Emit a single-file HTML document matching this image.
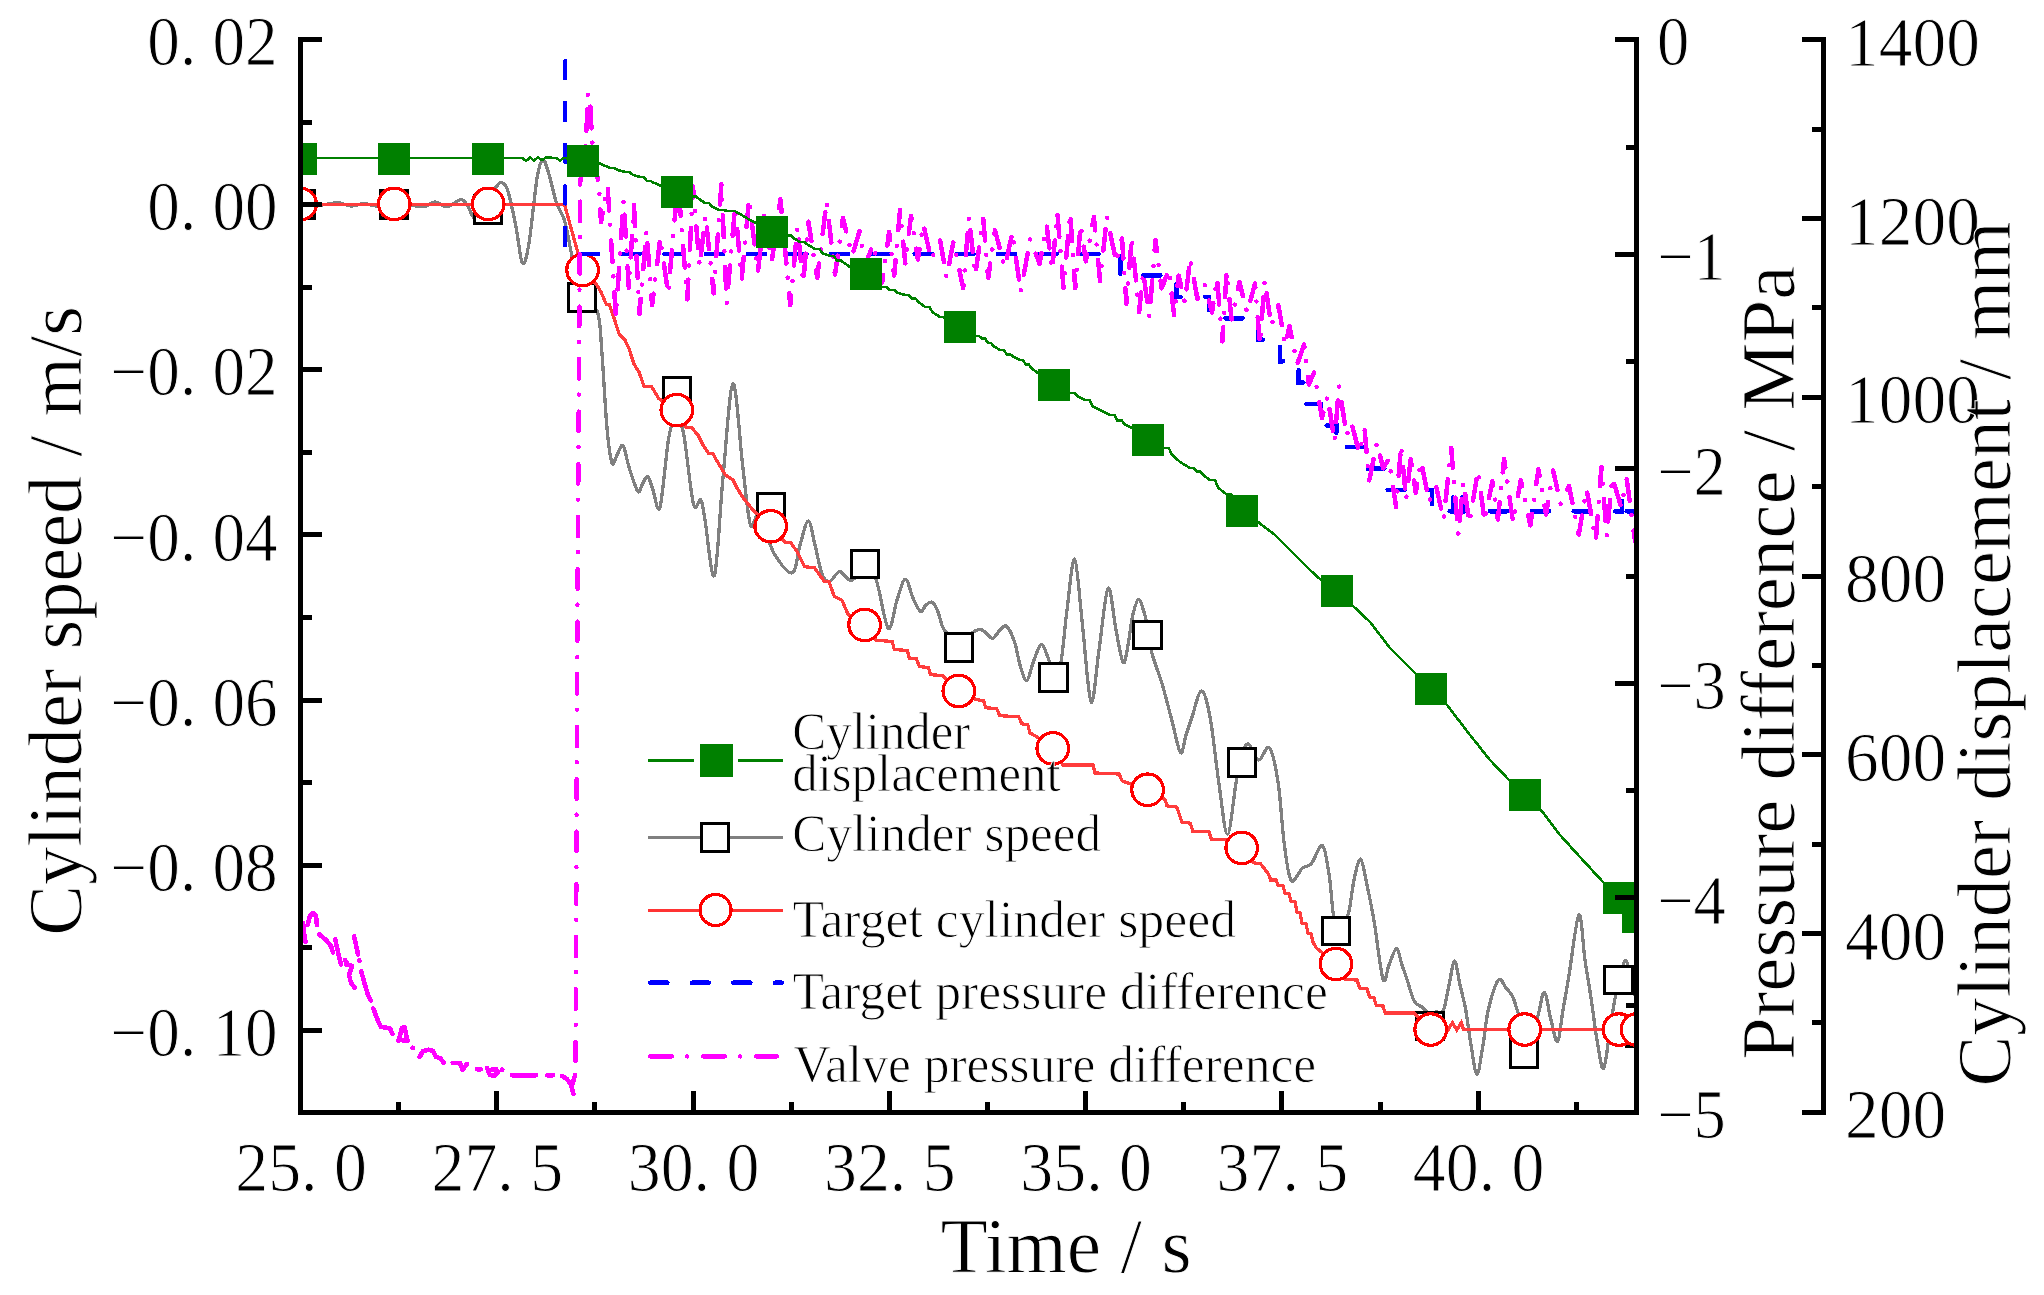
<!DOCTYPE html>
<html><head><meta charset="utf-8"><title>Chart</title>
<style>html,body{margin:0;padding:0;background:#fff;overflow:hidden}svg{display:block}</style>
</head><body>
<svg xmlns="http://www.w3.org/2000/svg" width="2044" height="1295" viewBox="0 0 2044 1295" shape-rendering="crispEdges">
<rect width="2044" height="1295" fill="#fff"/>
<defs><clipPath id="pc"><rect x="300.5" y="30" width="1335.5" height="1082"/></clipPath></defs>
<g clip-path="url(#pc)">
<path d="M300.5 205.0 C304.1 205.0 315.8 205.4 322.0 205.0 C328.2 204.6 333.2 202.4 338.0 202.6 C342.8 202.8 346.7 205.8 351.0 206.0 C355.3 206.2 359.8 203.5 364.0 203.5 C368.2 203.5 371.0 205.9 376.0 206.0 C381.0 206.1 388.3 204.2 394.0 204.0 C399.7 203.8 405.0 204.6 410.0 205.0 C415.0 205.4 419.8 207.2 424.0 206.7 C428.2 206.2 431.2 202.0 435.0 202.0 C438.8 202.0 442.7 207.1 447.0 206.7 C451.3 206.3 457.6 199.8 461.0 199.7 C464.4 199.6 465.7 203.3 467.6 206.0 C469.5 208.7 470.7 212.9 472.4 215.6 C474.1 218.3 475.9 222.1 478.0 222.0 C480.1 221.9 482.8 219.5 485.0 215.0 C487.2 210.5 489.1 199.8 491.0 195.0 C492.9 190.2 494.9 188.6 496.7 186.5 C498.4 184.4 499.6 181.7 501.5 182.5 C503.4 183.3 505.6 183.9 508.0 191.3 C510.4 198.7 513.6 214.9 516.0 226.9 C518.4 238.9 520.3 260.5 522.5 263.2 C524.7 265.9 526.6 257.1 529.0 243.0 C531.4 228.9 534.7 192.2 537.0 178.4 C539.3 164.6 540.8 161.0 542.7 159.9 C544.6 158.8 546.0 164.9 548.3 172.0 C550.6 179.1 553.7 194.6 556.4 202.7 C559.1 210.8 562.1 212.3 564.5 220.4 C566.9 228.5 569.0 241.9 570.9 251.0 C572.8 260.1 574.1 267.3 576.0 275.0 C577.9 282.7 578.4 290.8 582.0 297.0 C585.6 303.2 594.3 302.9 597.6 312.4 C600.9 321.9 600.4 334.7 602.0 354.0 C603.6 373.3 605.3 409.9 607.0 428.0 C608.7 446.1 610.3 458.4 612.0 462.9 C613.7 467.4 615.2 457.9 617.0 455.0 C618.8 452.1 621.0 443.5 623.0 445.6 C625.0 447.7 626.7 460.2 629.2 467.8 C631.7 475.4 635.7 488.4 637.8 491.3 C639.9 494.2 640.4 487.5 642.0 485.0 C643.6 482.5 645.9 475.6 647.7 476.4 C649.5 477.2 651.0 484.9 653.0 490.0 C655.0 495.1 657.4 516.0 660.0 507.3 C662.6 498.7 666.0 453.0 668.7 438.1 C671.4 423.2 673.5 418.8 676.0 418.0 C678.5 417.2 680.6 418.9 683.5 433.2 C686.4 447.5 690.5 492.5 693.4 503.6 C696.3 514.7 698.9 497.3 700.8 500.0 C702.7 502.7 702.7 507.4 705.0 520.0 C707.3 532.5 711.4 582.3 714.4 575.3 C717.4 568.2 719.9 509.6 723.0 477.7 C726.1 445.8 729.7 385.4 733.0 383.8 C736.3 382.2 740.0 444.3 742.9 467.8 C745.8 491.3 747.8 516.8 750.3 524.6 C752.8 532.4 755.2 513.8 757.7 514.7 C760.2 515.6 762.1 523.3 765.0 530.0 C767.9 536.7 770.5 547.9 775.0 555.0 C779.5 562.1 788.1 574.5 792.3 572.8 C796.5 571.1 797.3 553.6 800.0 545.0 C802.7 536.4 805.8 521.0 808.3 521.0 C810.8 521.0 812.7 536.2 815.0 545.0 C817.3 553.8 819.6 567.9 822.0 574.0 C824.4 580.1 826.4 581.9 829.3 581.5 C832.2 581.1 836.4 572.4 839.2 571.6 C842.0 570.9 843.9 575.6 846.0 577.0 C848.1 578.4 848.4 581.0 851.6 580.2 C854.8 579.4 860.9 572.0 865.0 572.0 C869.1 572.0 872.3 570.8 876.2 580.2 C880.1 589.6 884.7 625.1 888.2 628.4 C891.7 631.7 894.1 608.2 897.0 600.0 C899.9 591.8 902.6 579.5 905.3 579.2 C908.0 578.9 910.5 592.6 913.0 598.0 C915.5 603.4 918.2 610.1 920.4 611.3 C922.6 612.5 924.0 606.5 926.0 605.0 C928.0 603.5 930.4 601.1 932.4 602.3 C934.4 603.5 936.0 607.3 938.0 612.0 C940.0 616.7 941.0 625.7 944.5 630.4 C948.0 635.1 954.0 639.8 959.0 640.0 C964.0 640.2 970.6 633.2 974.2 631.4 C977.8 629.6 978.6 629.1 980.6 629.4 C982.6 629.7 984.0 631.5 986.0 633.0 C988.0 634.5 990.4 638.9 992.7 638.4 C995.0 637.9 997.7 632.0 1000.0 630.0 C1002.3 628.0 1004.2 624.3 1006.7 626.4 C1009.2 628.5 1012.5 636.0 1014.7 642.4 C1016.9 648.8 1018.0 658.6 1020.0 665.0 C1022.0 671.4 1024.5 681.4 1026.8 680.6 C1029.1 679.8 1031.5 666.0 1034.0 660.0 C1036.5 654.0 1039.1 644.1 1041.8 644.5 C1044.5 644.9 1047.7 658.2 1049.9 662.5 C1052.1 666.8 1053.2 670.0 1055.0 670.0 C1056.8 670.0 1058.9 672.5 1060.9 662.5 C1062.9 652.5 1064.7 627.2 1067.0 610.0 C1069.3 592.8 1072.1 557.4 1074.6 559.1 C1077.1 560.8 1079.3 596.2 1082.0 620.0 C1084.7 643.8 1088.2 696.7 1091.0 701.7 C1093.8 706.7 1096.2 668.9 1099.0 650.0 C1101.8 631.1 1105.3 591.5 1108.1 588.2 C1110.9 584.9 1113.5 617.6 1116.0 630.0 C1118.5 642.4 1121.2 660.0 1123.2 662.5 C1125.2 665.0 1126.5 652.6 1128.0 645.0 C1129.5 637.4 1130.7 624.4 1132.4 616.8 C1134.2 609.2 1136.5 599.9 1138.5 599.5 C1140.5 599.1 1143.1 609.3 1144.7 614.4 C1146.3 619.5 1146.8 623.4 1148.0 630.0 C1149.2 636.6 1149.8 645.0 1152.1 653.9 C1154.4 662.8 1158.7 672.4 1162.0 683.5 C1165.3 694.6 1168.8 709.1 1171.9 720.6 C1175.0 732.1 1178.2 750.3 1180.5 752.7 C1182.8 755.1 1184.1 740.8 1186.0 735.0 C1187.9 729.2 1189.1 725.4 1191.7 718.1 C1194.3 710.8 1198.4 691.0 1201.5 691.0 C1204.6 691.0 1207.3 702.9 1210.2 718.1 C1213.1 733.3 1215.9 763.0 1218.8 782.4 C1221.7 801.8 1224.6 834.3 1227.5 834.3 C1230.4 834.3 1233.7 795.6 1236.1 782.4 C1238.5 769.2 1239.9 761.4 1242.0 755.0 C1244.1 748.6 1245.8 743.1 1248.5 744.0 C1251.2 744.9 1254.9 759.6 1258.4 760.2 C1261.9 760.8 1266.2 744.1 1269.5 747.8 C1272.8 751.5 1275.6 766.3 1278.1 782.4 C1280.6 798.5 1282.1 827.9 1284.3 844.2 C1286.5 860.5 1288.2 876.4 1291.2 880.4 C1294.2 884.4 1299.1 870.9 1302.4 868.1 C1305.8 865.3 1308.0 867.4 1311.3 863.7 C1314.6 860.0 1319.5 843.7 1322.5 845.7 C1325.5 847.8 1327.4 864.2 1329.3 876.0 C1331.2 887.8 1331.9 908.1 1333.7 916.3 C1335.5 924.5 1337.6 925.4 1340.0 925.0 C1342.4 924.6 1346.0 921.5 1348.3 914.0 C1350.6 906.5 1352.0 889.1 1354.0 880.0 C1356.0 870.9 1358.4 858.4 1360.6 859.2 C1362.8 860.0 1364.8 874.8 1367.0 885.0 C1369.2 895.2 1371.3 905.0 1374.0 920.7 C1376.7 936.4 1380.5 971.6 1383.0 979.0 C1385.5 986.4 1386.8 970.0 1389.0 965.0 C1391.2 960.0 1394.2 948.7 1396.4 948.7 C1398.6 948.7 1400.1 959.6 1402.0 965.0 C1403.9 970.4 1405.5 975.2 1407.6 981.2 C1409.6 987.2 1411.7 996.8 1414.3 1001.3 C1416.9 1005.8 1420.7 1005.7 1423.3 1008.0 C1425.9 1010.3 1427.9 1014.3 1430.0 1015.0 C1432.1 1015.7 1433.8 1012.8 1436.0 1012.0 C1438.2 1011.2 1441.2 1014.8 1443.4 1010.3 C1445.6 1005.8 1447.1 993.2 1449.0 985.0 C1450.9 976.8 1452.8 961.0 1454.6 961.0 C1456.4 961.0 1458.1 976.8 1460.0 985.0 C1461.9 993.2 1464.0 1000.3 1465.8 1010.3 C1467.6 1020.3 1469.1 1034.4 1471.0 1045.0 C1472.9 1055.6 1475.0 1074.1 1477.0 1074.1 C1479.0 1074.1 1481.1 1055.6 1483.0 1045.0 C1484.9 1034.4 1485.7 1021.1 1488.2 1010.3 C1490.8 999.5 1495.3 983.8 1498.3 980.1 C1501.3 976.4 1503.6 985.2 1506.0 988.0 C1508.4 990.8 1510.5 992.1 1512.8 996.9 C1515.0 1001.7 1517.0 1010.6 1519.5 1017.0 C1522.0 1023.4 1525.0 1035.0 1528.0 1035.0 C1531.0 1035.0 1534.8 1024.1 1537.5 1017.0 C1540.2 1009.9 1542.0 991.9 1544.2 992.4 C1546.5 992.9 1548.8 1011.8 1551.0 1020.0 C1553.2 1028.2 1555.6 1043.3 1557.6 1041.6 C1559.6 1039.9 1561.1 1020.8 1563.0 1010.0 C1564.9 999.2 1566.1 992.5 1568.8 976.7 C1571.5 960.9 1576.2 917.9 1578.9 915.1 C1581.6 912.3 1583.0 946.0 1585.0 960.0 C1587.0 974.0 1589.2 985.8 1591.2 999.1 C1593.2 1012.4 1595.0 1028.4 1597.0 1040.0 C1599.0 1051.6 1601.3 1070.2 1603.5 1068.5 C1605.7 1066.8 1608.0 1042.3 1610.0 1030.0 C1612.0 1017.7 1613.3 1006.1 1615.8 994.6 C1618.3 983.1 1622.4 964.3 1624.8 961.0 C1627.2 957.7 1627.5 966.0 1630.0 975.0 C1632.5 984.0 1638.3 1008.3 1640.0 1015.0" fill="none" stroke="#808080" stroke-width="3.3" stroke-linejoin="round"/>
<rect x="286.9" y="190.8" width="27.2" height="27.2" fill="#fff" stroke="#000" stroke-width="3"/>
<rect x="380.4" y="190.8" width="27.2" height="27.2" fill="#fff" stroke="#000" stroke-width="3"/>
<rect x="474.1" y="195.8" width="27.2" height="27.2" fill="#fff" stroke="#000" stroke-width="3"/>
<rect x="568.6" y="283.8" width="27.2" height="27.2" fill="#fff" stroke="#000" stroke-width="3"/>
<rect x="663.1" y="377.6" width="27.2" height="27.2" fill="#fff" stroke="#000" stroke-width="3"/>
<rect x="757.0" y="493.4" width="27.2" height="27.2" fill="#fff" stroke="#000" stroke-width="3"/>
<rect x="851.4" y="550.1" width="27.2" height="27.2" fill="#fff" stroke="#000" stroke-width="3"/>
<rect x="945.5" y="633.9" width="27.2" height="27.2" fill="#fff" stroke="#000" stroke-width="3"/>
<rect x="1039.9" y="663.8" width="27.2" height="27.2" fill="#fff" stroke="#000" stroke-width="3"/>
<rect x="1133.8" y="621.4" width="27.2" height="27.2" fill="#fff" stroke="#000" stroke-width="3"/>
<rect x="1228.3" y="748.8" width="27.2" height="27.2" fill="#fff" stroke="#000" stroke-width="3"/>
<rect x="1322.5" y="917.7" width="27.2" height="27.2" fill="#fff" stroke="#000" stroke-width="3"/>
<rect x="1416.7" y="1012.1" width="27.2" height="27.2" fill="#fff" stroke="#000" stroke-width="3"/>
<rect x="1510.4" y="1039.8" width="27.2" height="27.2" fill="#fff" stroke="#000" stroke-width="3"/>
<rect x="1604.8" y="966.0" width="27.2" height="27.2" fill="#fff" stroke="#000" stroke-width="3"/>
<rect x="1626.4" y="1019.4" width="27.2" height="27.2" fill="#fff" stroke="#000" stroke-width="3"/>
<polyline points="300.5,204.3 564.5,204.3 572.5,233.3 577.4,251.0 582.6,270.0 596.7,285.0 601.0,292.0 606.4,304.4 609.4,304.7 614.0,318.0 619.3,334.4 625.0,340.0 629.2,349.2 634.0,364.0 639.0,372.0 644.0,386.3 651.4,386.3 658.8,398.6 676.8,410.1 686.0,427.0 692.0,428.0 698.4,435.7 703.0,445.0 708.3,453.0 713.0,454.0 718.1,462.9 725.6,475.2 733.0,480.0 737.0,488.0 742.9,497.4 752.7,509.8 770.7,526.2 784.9,541.9 791.0,543.0 797.2,551.8 804.6,566.6 814.5,567.9 824.4,581.5 829.0,582.0 834.3,596.3 842.0,600.3 848.0,614.3 864.6,624.9 876.2,640.4 892.2,641.4 894.3,649.5 907.3,650.5 909.3,658.1 916.3,658.5 919.4,666.5 928.4,667.6 930.4,674.6 942.4,675.6 958.8,691.0 976.6,699.7 983.6,700.7 985.6,707.7 996.7,708.7 999.7,715.7 1018.8,716.7 1021.8,723.8 1027.8,724.8 1029.8,732.8 1036.8,736.8 1052.8,748.4 1062.9,764.9 1093.0,764.9 1095.0,773.0 1119.2,774.0 1122.2,781.0 1147.6,789.8 1165.2,799.7 1167.0,805.9 1176.8,807.1 1181.8,822.0 1190.4,823.2 1192.9,831.8 1209.0,831.8 1211.4,839.2 1225.0,839.2 1241.7,847.9 1253.4,862.7 1260.8,864.0 1268.3,873.8 1270.7,880.0 1276.0,880.0 1278.0,885.0 1283.0,886.0 1285.0,893.0 1289.0,894.0 1291.0,901.0 1295.0,902.0 1297.0,912.0 1300.0,913.0 1302.0,923.0 1306.0,924.0 1308.0,933.0 1311.0,934.0 1313.0,942.0 1316.0,947.6 1336.0,964.0 1345.0,979.4 1357.2,980.0 1359.5,987.9 1367.0,989.0 1369.6,996.9 1374.0,998.0 1376.3,1005.4 1383.0,1006.0 1385.2,1013.0 1414.3,1013.0 1430.7,1029.5 1447.9,1030.4 1452.4,1022.6 1456.8,1030.0 1461.3,1022.6 1463.6,1029.8 1640.0,1029.8" fill="none" stroke="#ff3c3c" stroke-width="3.3" stroke-linejoin="miter"/>
<circle cx="300.5" cy="204" r="15.8" fill="#fff" stroke="#ff0000" stroke-width="3.2"/>
<circle cx="394.3" cy="203.9" r="15.8" fill="#fff" stroke="#ff0000" stroke-width="3.2"/>
<circle cx="488.2" cy="203.9" r="15.8" fill="#fff" stroke="#ff0000" stroke-width="3.2"/>
<circle cx="582.6" cy="270" r="15.8" fill="#fff" stroke="#ff0000" stroke-width="3.2"/>
<circle cx="676.8" cy="410.1" r="15.8" fill="#fff" stroke="#ff0000" stroke-width="3.2"/>
<circle cx="770.7" cy="526.2" r="15.8" fill="#fff" stroke="#ff0000" stroke-width="3.2"/>
<circle cx="864.6" cy="624.9" r="15.8" fill="#fff" stroke="#ff0000" stroke-width="3.2"/>
<circle cx="958.8" cy="691" r="15.8" fill="#fff" stroke="#ff0000" stroke-width="3.2"/>
<circle cx="1052.8" cy="748.4" r="15.8" fill="#fff" stroke="#ff0000" stroke-width="3.2"/>
<circle cx="1147.6" cy="789.8" r="15.8" fill="#fff" stroke="#ff0000" stroke-width="3.2"/>
<circle cx="1241.7" cy="847.9" r="15.8" fill="#fff" stroke="#ff0000" stroke-width="3.2"/>
<circle cx="1336" cy="964" r="15.8" fill="#fff" stroke="#ff0000" stroke-width="3.2"/>
<circle cx="1430.7" cy="1029.5" r="15.8" fill="#fff" stroke="#ff0000" stroke-width="3.2"/>
<circle cx="1524.7" cy="1029.5" r="15.8" fill="#fff" stroke="#ff0000" stroke-width="3.2"/>
<circle cx="1618.9" cy="1029.5" r="15.8" fill="#fff" stroke="#ff0000" stroke-width="3.2"/>
<circle cx="1637" cy="1029.5" r="15.8" fill="#fff" stroke="#ff0000" stroke-width="3.2"/>
</g>
<g clip-path="url(#pc)">
<path d="M565.1 59 V253.8 H1120.3 V275.4 H1176.4 V296.8 H1208.9 V318.3 H1258 V339.7 H1280 V361.2 H1298.6 V382.6 H1306 V404 H1320.5 V425.5 H1336.4 V446.9 H1368 V468.4 H1386 V489.8 H1432 V511.2 H1453 V489.8 H1462.4 V511.2 H1622 V496 H1624.6 V511.2 H1640" fill="none" stroke="#0000ff" stroke-width="4.6" stroke-dasharray="17 24.7" stroke-dashoffset="-2.3" stroke-linecap="round"/>
<path d="M303,923 L304,933 L305.5,942 M307.5,925 L310,916 L313,913 L316,916 L317,925 M319.2,934.3 L326,940 L331,946 L333,952.4 M335.2,939.3 L338,952 L341,964.4 M345,960 L347,963 M346.3,964.4 L352,966 L349,975 L351,983 L354.5,987.5 M354,936.3 L356,945 L358,954.4 M359.3,960.4 L359.6,961 M361.3,971.5 L365,985 L368,995 L371,1000.6 M373.4,1008.6 L378,1021 L381,1027 L386,1027.5 L390,1028.5 L392.5,1033.7 M398.5,1040.8 L402,1028 L404.5,1027 L407.5,1040.8 L400,1040 M412.6,1047.8 L412.8,1048 M419.6,1057 L423,1051 L428.6,1049.8 L433,1051 L436,1057 L440,1058 L443.7,1062.8 M452.7,1062.8 L460,1063 L462.6,1070 L466.8,1064 M476.8,1069.3 L480.8,1069.3 M487,1068 L490,1075 L494,1076 L498,1072 L496,1069 L490,1070 M502,1070 L502.3,1069.5 M512,1075.3 L536,1075.3 M547.1,1075.3 L553.1,1075.3 M562,1076 L567,1079 L571,1085 L573.5,1094 M575.2,1075 L572,1085" fill="none" stroke="#ff00ff" stroke-width="4.6" stroke-linecap="round" stroke-linejoin="round"/>
<polyline points="575.5,1075.0 577.5,600.0 579.8,250.0 580.2,182.0" fill="none" stroke="#ff00ff" stroke-width="4.5" stroke-dasharray="19.5 17 0.01 16" stroke-dashoffset="-13.75" stroke-linecap="round"/>
<polyline points="580.2,182.0 583.0,165.0 586.0,142.0 588.0,93.0 590.0,100.0 592.0,140.0 596.0,170.0 599.0,185.0 601.0,222.0 607.6,186.1 615.9,316.5 623.6,200.5 628.8,287.7 634.0,205.1 639.4,314.1 646.5,230.4 652.1,305.1 660.3,238.1 668.1,293.4 678.0,181.6 687.3,299.4 693.0,186.5 699.6,266.4 705.5,215.5 713.7,293.3 721.4,184.1 726.7,302.9 735.1,206.5 741.7,279.4 749.0,199.1 757.9,272.2 764.1,215.8 771.8,261.4 780.4,199.2 790.3,305.2 797.4,226.8 803.2,283.2 808.4,221.7 817.2,277.9 826.6,201.7 835.0,274.7 842.9,218.0 852.1,255.8 859.5,231.1 864.8,265.7 873.1,244.6 882.2,282.6 889.1,231.9 894.2,275.6 900.0,210.2 905.3,263.5 911.0,215.7 917.9,259.5 923.3,224.0 931.1,259.2 940.2,240.7 946.6,277.7 953.4,241.7 963.2,288.1 969.0,216.7 975.2,275.2 983.2,218.3 988.2,277.8 995.0,230.3 1004.8,267.5 1012.4,232.6 1020.7,291.9 1030.2,239.2 1039.6,263.8 1046.6,225.1 1052.1,270.1 1057.4,212.9 1063.5,287.9 1070.2,212.7 1075.2,288.3 1080.7,224.7 1085.8,261.4 1093.9,217.0 1100.1,281.1 1106.9,216.4 1116.2,262.2 1122.0,238.7 1126.4,303.9 1131.8,237.5 1139.1,312.2 1143.2,271.5 1149.3,316.7 1155.5,239.8 1161.6,288.3 1169.0,269.7 1174.1,315.3 1178.7,275.6 1184.9,302.8 1190.2,258.6 1197.4,298.9 1204.8,285.0 1212.1,312.4 1217.0,278.2 1222.4,341.5 1226.6,272.2 1231.6,319.5 1239.4,282.0 1247.2,312.8 1255.0,283.4 1259.9,343.8 1264.7,280.4 1271.2,325.4 1278.5,305.4 1285.1,345.5 1289.5,326.2 1297.1,364.6 1304.1,344.6 1308.8,384.6 1314.1,372.3 1322.0,418.1 1327.6,396.2 1334.5,441.3 1339.0,386.5 1346.7,435.4 1351.3,422.4 1359.2,452.7 1364.6,429.4 1369.1,481.0 1377.0,442.7 1383.1,468.3 1388.8,459.2 1396.1,507.0 1401.1,445.6 1406.1,499.7 1411.1,455.1 1415.7,493.1 1421.1,461.4 1429.0,501.5 1436.1,486.3 1443.6,519.5 1451.2,447.8 1458.4,534.9 1463.4,481.5 1469.3,522.6 1477.9,471.1 1484.6,521.0 1492.3,481.1 1497.9,519.5 1504.1,459.1 1513.0,522.1 1520.8,480.4 1530.3,525.3 1538.4,469.3 1546.0,514.6 1553.2,470.6 1560.6,503.9 1569.1,486.0 1578.8,534.6 1586.6,489.2 1595.8,540.6 1601.4,466.9 1606.8,536.2 1612.2,477.2 1621.1,506.9 1626.8,479.4 1635.1,541.4 1644.6,491.0" fill="none" stroke="#ff00ff" stroke-width="4.5" stroke-dasharray="21.8 14.2 0.01 15.7" stroke-linecap="round" stroke-linejoin="round"/>
</g>
<g clip-path="url(#pc)">
<polyline points="300.5,157.8 306.7,157.8 312.8,157.8 319.0,157.8 325.1,157.8 331.3,157.8 337.4,157.8 343.6,157.8 349.7,157.8 355.9,157.8 362.0,157.8 368.2,157.8 374.3,157.8 380.5,157.8 386.6,157.8 392.8,157.8 398.9,157.8 405.1,157.8 411.2,157.8 417.4,157.8 423.6,157.8 429.7,157.8 435.9,157.8 442.0,157.8 448.2,157.8 454.3,157.8 460.5,157.8 466.6,157.8 472.8,157.8 478.9,157.8 485.1,157.8 491.2,157.8 497.4,157.8 503.5,157.8 509.7,157.8 515.8,157.8 522.0,157.8 526.0,161.0 530.0,157.5 534.0,160.5 538.0,157.5 542.0,160.0 546.0,157.5 556.0,158.0 560.0,160.5 564.0,157.8 570.3,158.8 576.7,159.9 583.0,160.9 590.8,161.9 598.5,163.0 610.0,168.0 614.5,168.0 617.5,169.9 625.0,172.0 629.5,172.0 632.5,174.6 640.0,177.0 643.8,177.0 646.8,180.9 650.5,180.9 653.5,182.6 660.3,185.5 665.6,185.5 668.6,188.8 677.0,192.0 681.9,192.0 684.9,194.4 692.8,196.3 695.9,196.3 698.9,198.9 705.0,203.0 709.0,203.0 712.0,206.5 719.0,210.0 723.8,210.0 726.8,210.8 734.5,211.0 745.0,217.0 754.6,222.6 760.0,222.6 763.0,228.0 771.5,232.0 776.6,232.0 779.6,232.9 787.8,235.7 790.9,235.7 793.9,238.4 800.0,242.0 804.5,242.0 807.5,244.5 815.0,249.0 819.5,249.0 822.5,253.2 830.0,256.0 833.8,256.0 836.8,260.3 840.6,260.3 843.6,262.5 850.4,267.4 855.2,267.4 858.2,272.0 866.0,274.3 870.8,274.3 873.8,281.8 881.6,287.0 886.4,287.0 889.4,290.0 894.2,290.0 897.2,292.6 905.0,295.0 908.7,295.0 911.7,298.2 915.3,298.2 918.3,301.8 925.0,307.0 929.5,307.0 932.5,312.1 940.0,317.0 943.6,317.0 946.6,319.3 950.3,319.3 953.3,323.1 959.9,327.2 964.8,327.2 967.8,331.0 975.7,336.0 978.8,336.0 981.8,338.4 984.9,338.4 987.9,342.9 990.9,342.9 993.9,346.4 1000.0,350.0 1003.7,350.0 1006.7,354.2 1010.3,354.2 1013.3,356.7 1020.0,360.0 1023.0,360.0 1026.0,364.7 1029.0,364.7 1032.0,368.7 1038.0,373.0 1043.0,373.0 1046.0,379.2 1054.1,384.7 1058.9,384.7 1061.9,388.7 1069.8,393.0 1074.4,393.0 1077.4,396.0 1085.0,400.0 1089.5,400.0 1092.5,406.2 1100.0,410.0 1110.0,415.0 1114.3,415.0 1117.3,420.5 1121.7,420.5 1124.7,424.5 1132.0,428.0 1137.0,428.0 1140.0,434.6 1148.0,440.3 1152.8,440.3 1155.8,443.7 1163.6,448.0 1168.8,448.0 1171.8,454.4 1180.0,462.0 1190.0,468.0 1193.7,468.0 1196.7,471.5 1200.3,471.5 1203.3,475.0 1210.0,480.0 1215.0,480.0 1218.0,487.6 1226.0,494.0 1231.2,494.0 1234.2,502.1 1242.4,510.6 1250.2,516.3 1258.0,522.0 1266.5,528.5 1275.0,535.0 1282.5,542.5 1290.0,550.0 1296.7,556.7 1303.3,563.3 1310.0,570.0 1321.0,580.0 1329.0,585.4 1336.9,590.8 1344.5,597.9 1352.0,605.0 1358.0,610.7 1364.0,616.3 1370.0,622.0 1376.7,630.7 1383.3,639.3 1390.0,648.0 1396.7,654.7 1403.3,661.3 1410.0,668.0 1417.1,675.1 1424.3,682.1 1431.4,689.2 1439.2,697.1 1447.0,705.0 1454.7,715.0 1462.3,725.0 1470.0,735.0 1476.7,743.3 1483.3,751.7 1490.0,760.0 1496.3,766.7 1502.7,773.3 1509.0,780.0 1517.1,787.2 1525.2,794.5 1533.1,802.2 1541.0,810.0 1547.3,818.3 1553.7,826.7 1560.0,835.0 1566.7,842.3 1573.3,849.7 1580.0,857.0 1587.7,865.3 1595.3,873.7 1603.0,882.0 1611.0,890.0 1619.0,898.0 1625.4,904.4 1631.9,910.8 1638.3,917.2" fill="none" stroke="#008000" stroke-width="2.6" stroke-linejoin="miter"/>
<path d="M284.5 142.8h32v32h-32z M378.4 142.8h32v32h-32z M472.4 142.8h32v32h-32z M567.0 144.9h32v32h-32z M661.0 176.0h32v32h-32z M755.5 216.0h32v32h-32z M850.0 258.3h32v32h-32z M943.9 311.2h32v32h-32z M1038.1 368.7h32v32h-32z M1132.0 424.3h32v32h-32z M1226.4 494.6h32v32h-32z M1320.9 574.8h32v32h-32z M1415.4 673.2h32v32h-32z M1509.2 778.5h32v32h-32z M1603.0 882.0h32v32h-32z M1622.3 901.2h32v32h-32z" fill="#008000"/>
</g>
<path d="M300.5 37.2 V1112.3 H1638.8" stroke="#000" stroke-width="5" fill="none" stroke-linecap="butt" stroke-linejoin="miter"/>
<path d="M1636.4 37.2 V1114.8" stroke="#000" stroke-width="5" fill="none"/>
<path d="M1823.6 37.2 V1114.8" stroke="#000" stroke-width="5" fill="none"/>
<path d="M300.5 39.7 H322 M300.5 204.8 H322 M300.5 369.9 H322 M300.5 534.9 H322 M300.5 700.0 H322 M300.5 865.1 H322 M300.5 1030.2 H322 M300.5 122.2 H312 M300.5 287.3 H312 M300.5 452.4 H312 M300.5 617.5 H312 M300.5 782.6 H312 M300.5 947.6 H312 M300.5 1112.3 V1091.3 M496.8 1112.3 V1091.3 M693.0 1112.3 V1091.3 M889.3 1112.3 V1091.3 M1085.6 1112.3 V1091.3 M1281.9 1112.3 V1091.3 M1478.2 1112.3 V1091.3 M398.6 1112.3 V1102.2 M594.9 1112.3 V1102.2 M791.2 1112.3 V1102.2 M987.5 1112.3 V1102.2 M1183.7 1112.3 V1102.2 M1380.0 1112.3 V1102.2 M1576.3 1112.3 V1102.2 M1636.4 39.7 H1615 M1636.4 254.3 H1615 M1636.4 468.8 H1615 M1636.4 683.4 H1615 M1636.4 897.9 H1615 M1636.4 1112.5 H1615 M1636.4 147.0 H1626 M1636.4 361.5 H1626 M1636.4 576.1 H1626 M1636.4 790.7 H1626 M1636.4 1005.2 H1626 M1823.6 39.7 H1802.1 M1823.6 218.4 H1802.1 M1823.6 397.2 H1802.1 M1823.6 576.0 H1802.1 M1823.6 754.7 H1802.1 M1823.6 933.5 H1802.1 M1823.6 1112.2 H1802.1 M1823.6 129.1 H1812 M1823.6 307.8 H1812 M1823.6 486.6 H1812 M1823.6 665.3 H1812 M1823.6 844.1 H1812 M1823.6 1022.8 H1812" stroke="#000" stroke-width="5" fill="none"/>
<g font-family="'Liberation Serif','Times New Roman',serif" fill="#000" stroke="#fff" stroke-width="0.9">
<text transform="translate(277.66,65.29) scale(0.9877,1.0703)" font-size="66" text-anchor="end" xml:space="preserve">0. 02</text>
<text transform="translate(277.66,230.37) scale(0.9877,1.0703)" font-size="66" text-anchor="end" xml:space="preserve">0. 00</text>
<text transform="translate(277.66,395.45) scale(0.9877,1.0703)" font-size="66" text-anchor="end" xml:space="preserve">−0. 02</text>
<text transform="translate(277.66,560.53) scale(0.9877,1.0703)" font-size="66" text-anchor="end" xml:space="preserve">−0. 04</text>
<text transform="translate(277.66,725.61) scale(0.9877,1.0703)" font-size="66" text-anchor="end" xml:space="preserve">−0. 06</text>
<text transform="translate(277.66,890.69) scale(0.9877,1.0703)" font-size="66" text-anchor="end" xml:space="preserve">−0. 08</text>
<text transform="translate(277.66,1055.77) scale(0.9877,1.0703)" font-size="66" text-anchor="end" xml:space="preserve">−0. 10</text>
<text transform="translate(301.05,1191.41) scale(0.9976,1.0580)" font-size="66" text-anchor="middle" xml:space="preserve">25. 0</text>
<text transform="translate(497.32,1191.41) scale(0.9976,1.0580)" font-size="66" text-anchor="middle" xml:space="preserve">27. 5</text>
<text transform="translate(693.60,1191.41) scale(0.9976,1.0580)" font-size="66" text-anchor="middle" xml:space="preserve">30. 0</text>
<text transform="translate(889.87,1191.41) scale(0.9976,1.0580)" font-size="66" text-anchor="middle" xml:space="preserve">32. 5</text>
<text transform="translate(1086.15,1191.41) scale(0.9976,1.0580)" font-size="66" text-anchor="middle" xml:space="preserve">35. 0</text>
<text transform="translate(1282.42,1191.41) scale(0.9976,1.0580)" font-size="66" text-anchor="middle" xml:space="preserve">37. 5</text>
<text transform="translate(1478.70,1191.41) scale(0.9976,1.0580)" font-size="66" text-anchor="middle" xml:space="preserve">40. 0</text>
<text transform="translate(1657.08,65.45) scale(0.9790,1.0504)" font-size="66" xml:space="preserve">0</text>
<text transform="translate(1657.08,280.01) scale(0.9790,1.0504)" font-size="66" xml:space="preserve">−1</text>
<text transform="translate(1657.08,494.57) scale(0.9790,1.0504)" font-size="66" xml:space="preserve">−2</text>
<text transform="translate(1657.08,709.13) scale(0.9790,1.0504)" font-size="66" xml:space="preserve">−3</text>
<text transform="translate(1657.08,923.69) scale(0.9790,1.0504)" font-size="66" xml:space="preserve">−4</text>
<text transform="translate(1657.08,1138.25) scale(0.9790,1.0504)" font-size="66" xml:space="preserve">−5</text>
<text transform="translate(1845.03,65.77) scale(1.0216,1.0436)" font-size="66" xml:space="preserve">1400</text>
<text transform="translate(1845.03,244.52) scale(1.0216,1.0436)" font-size="66" xml:space="preserve">1200</text>
<text transform="translate(1845.03,423.27) scale(1.0216,1.0436)" font-size="66" xml:space="preserve">1000</text>
<text transform="translate(1845.03,602.02) scale(1.0216,1.0436)" font-size="66" xml:space="preserve">800</text>
<text transform="translate(1845.03,780.77) scale(1.0216,1.0436)" font-size="66" xml:space="preserve">600</text>
<text transform="translate(1845.03,959.52) scale(1.0216,1.0436)" font-size="66" xml:space="preserve">400</text>
<text transform="translate(1845.03,1138.27) scale(1.0216,1.0436)" font-size="66" xml:space="preserve">200</text>
<text transform="translate(1066.06,1272.47) scale(1.0086,1.0204)" font-size="76.8" text-anchor="middle" xml:space="preserve">Time / s</text>
<text transform="translate(80.56,620.95) rotate(-90) scale(1.0047,1.0094)" font-size="76" text-anchor="middle" xml:space="preserve">Cylinder speed / m/s</text>
<text transform="translate(1793.53,662.80) rotate(-90) scale(1.0031,1.0010)" font-size="76.6" text-anchor="middle" xml:space="preserve">Pressure difference / MPa</text>
<text transform="translate(2009.70,653.85) rotate(-90) scale(1.0025,1.0135)" font-size="76" text-anchor="middle" xml:space="preserve">Cylinder displacement / mm</text>
<text transform="translate(792.26,749.00) scale(0.9787,1.0000)" font-size="52" xml:space="preserve">Cylinder</text>
<text transform="translate(792.24,790.50) scale(0.9787,1.0000)" font-size="52" xml:space="preserve">displacement</text>
<text transform="translate(792.24,850.50) scale(0.9860,1.0000)" font-size="52" xml:space="preserve">Cylinder speed</text>
<text transform="translate(792.40,936.50) scale(0.9952,1.0000)" font-size="52" xml:space="preserve">Target cylinder speed</text>
<text transform="translate(792.41,1008.50) scale(0.9916,1.0000)" font-size="52" xml:space="preserve">Target pressure difference</text>
<text transform="translate(793.43,1082.00) scale(0.9912,1.0000)" font-size="52" xml:space="preserve">Valve pressure difference</text>
</g>
<path d="M648 760H694 M738 760H783" stroke="#008000" stroke-width="3"/>
<rect x="700" y="744" width="33" height="33" fill="#008000"/>
<path d="M648 837.5H783" stroke="#808080" stroke-width="3"/>
<rect x="701.7" y="823.8" width="27.2" height="27.2" fill="#fff" stroke="#000" stroke-width="3"/>
<path d="M648 910H783" stroke="#ff3333" stroke-width="3"/>
<circle cx="715.6" cy="910" r="15.5" fill="#fff" stroke="#ff0000" stroke-width="3.2"/>
<path d="M648 982.7H781.8" stroke="#0000ff" stroke-width="4.5" stroke-dasharray="17.1 24.4" stroke-dashoffset="-2.25" stroke-linecap="round"/>
<path d="M648 1056.4H776.8" stroke="#ff00ff" stroke-width="4.5" stroke-dasharray="21.5 15.5 0.01 16" stroke-dashoffset="-2.25" stroke-linecap="round"/>
</svg>
</body></html>
